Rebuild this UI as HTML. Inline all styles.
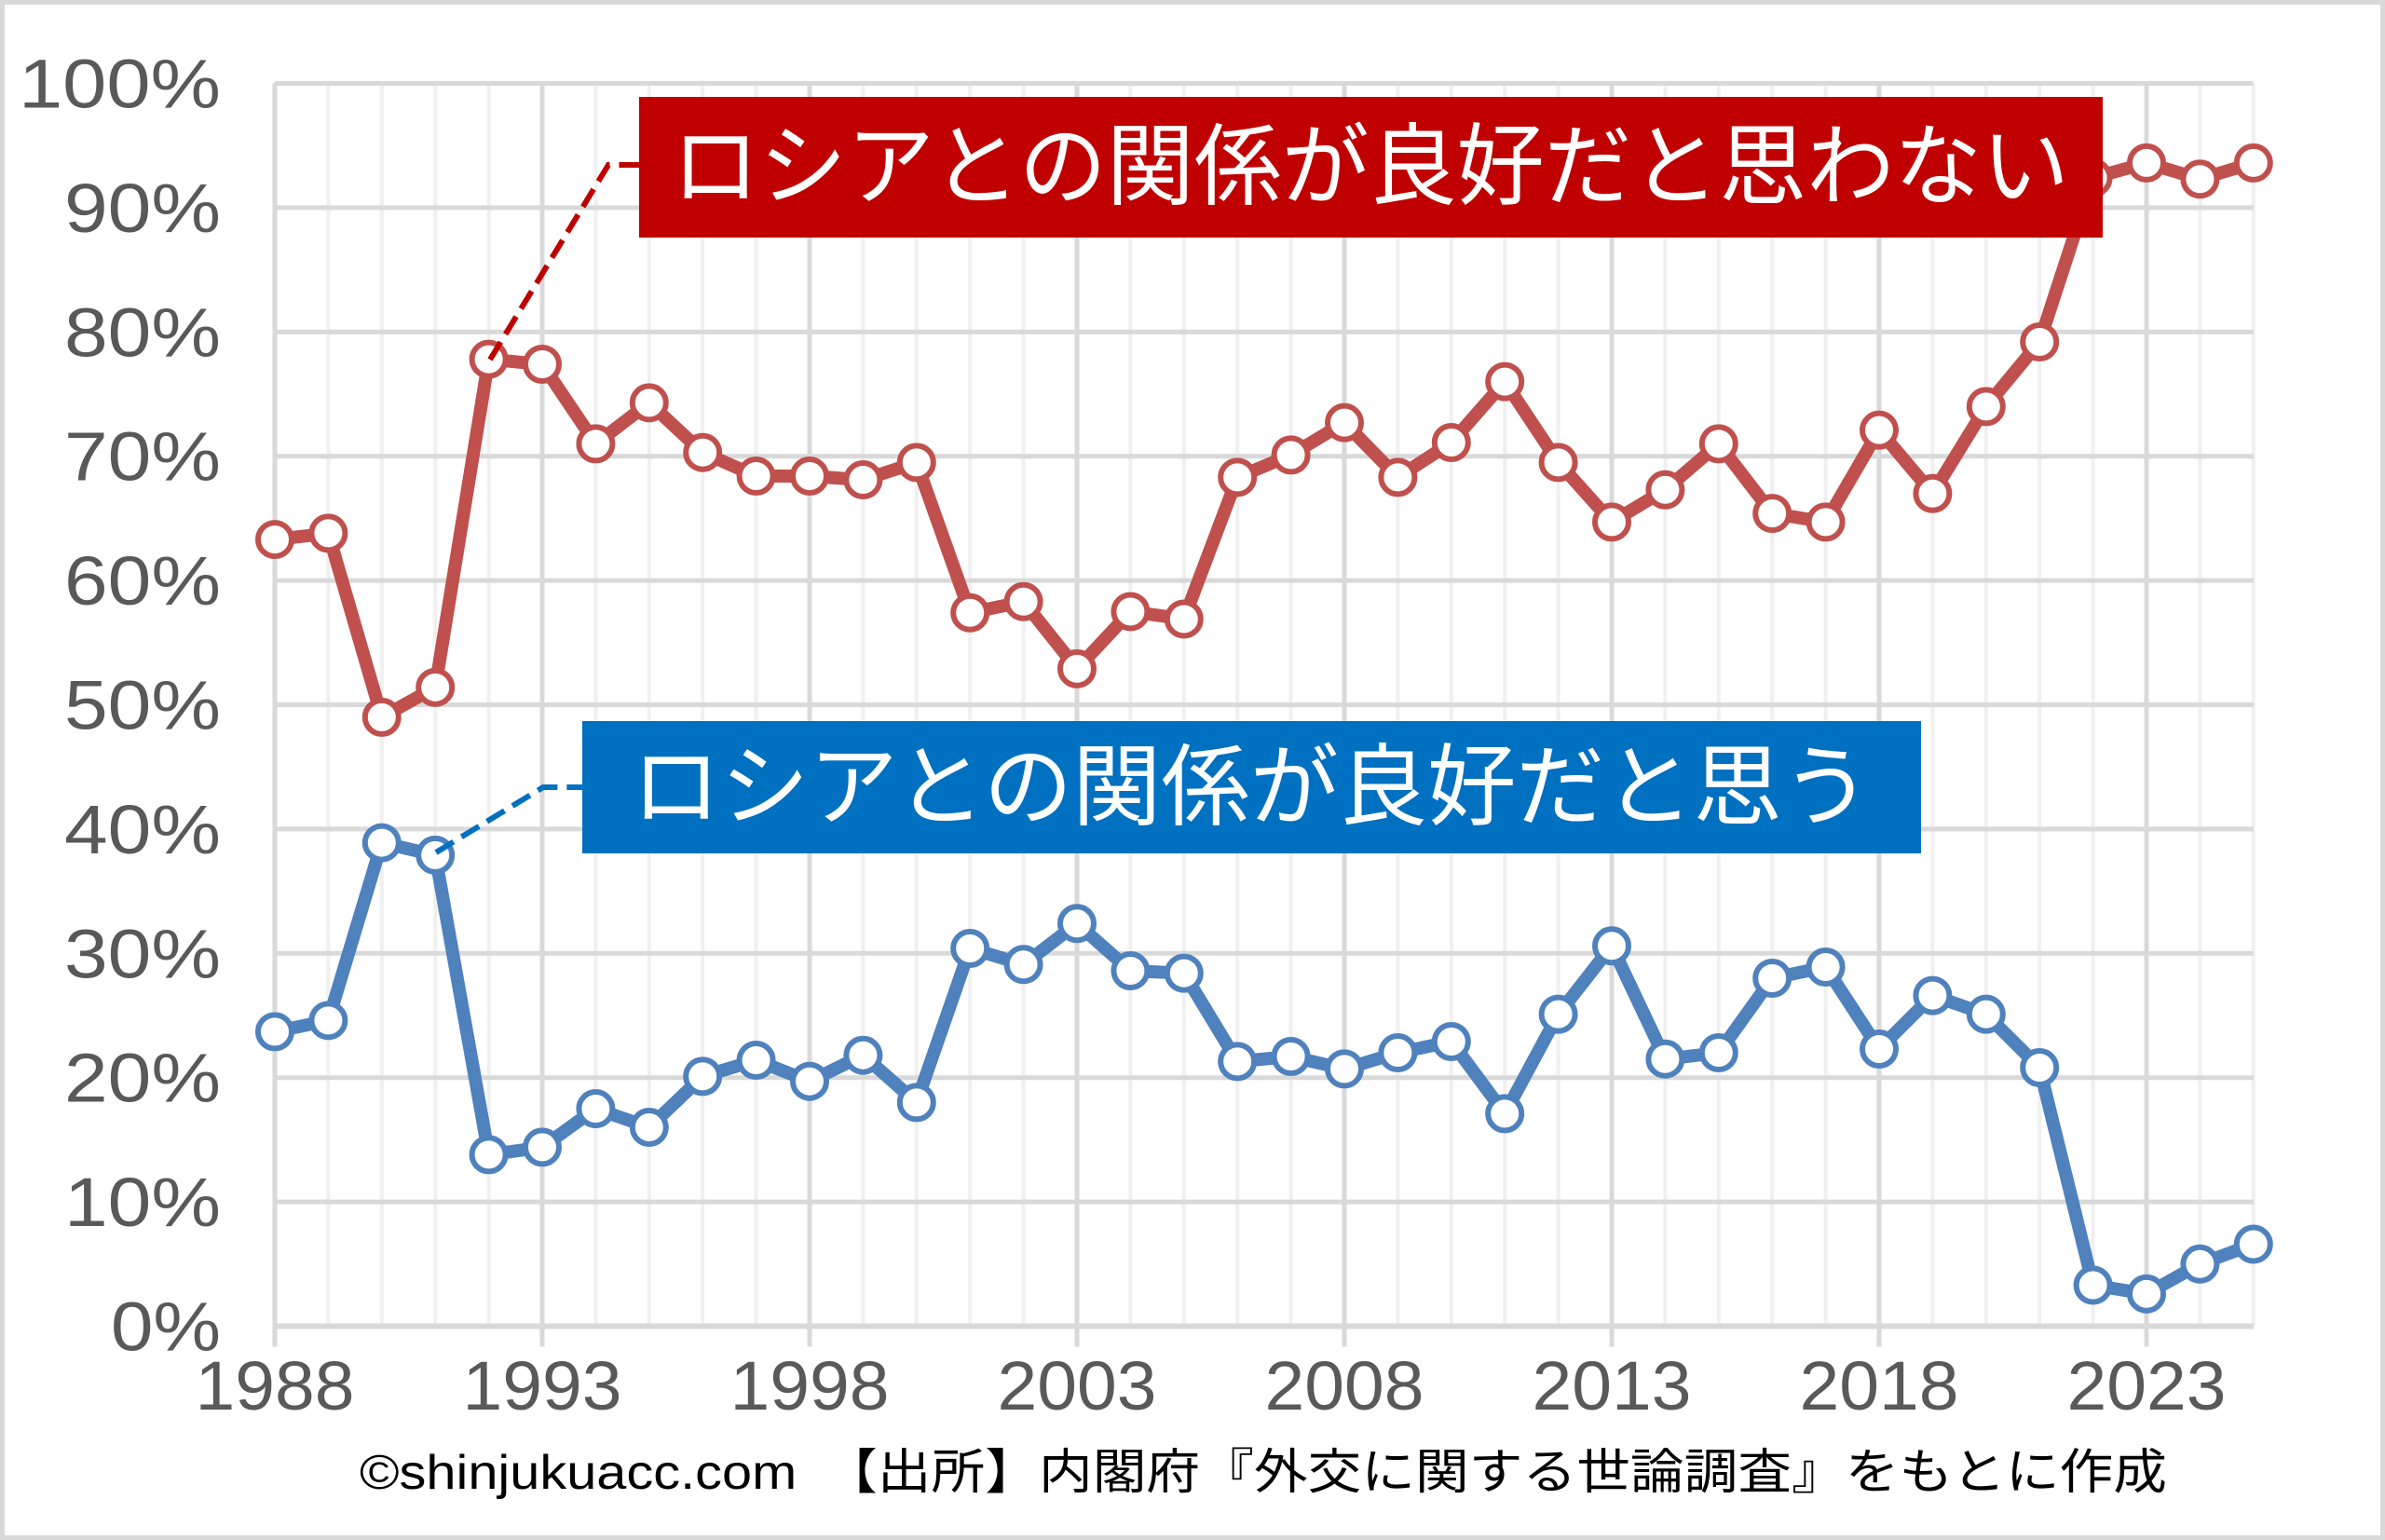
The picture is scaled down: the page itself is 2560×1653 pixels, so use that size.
<!DOCTYPE html>
<html><head><meta charset="utf-8"><style>
html,body{margin:0;padding:0;background:#fff}
svg{display:block}
</style></head><body>
<svg width="2560" height="1653" viewBox="0 0 2560 1653" xmlns="http://www.w3.org/2000/svg">
<rect x="2.5" y="2.5" width="2555" height="1648" fill="#fff" stroke="#d9d9d9" stroke-width="5"/>
<g id="grid"></g>
<g id="series"></g>
<g font-family="'Liberation Sans','Noto Sans CJK JP',sans-serif" fill="#595959" font-size="74" id="labels"></g>
<!-- callouts -->
<polyline points="526,386 653,177 686,177" fill="none" stroke="#c00000" stroke-width="6" stroke-dasharray="22,10"/>
<polyline points="468,915 583,845 625,845" fill="none" stroke="#0070c0" stroke-width="6" stroke-dasharray="22,10"/>
<rect x="686" y="104" width="1571" height="151" fill="#c00000"/>
<text x="1471" y="212" text-anchor="middle" font-family="'Noto Sans CJK JP',sans-serif" font-size="96" fill="#fff" textLength="1500" lengthAdjust="spacingAndGlyphs">ロシアとの関係が良好だと思わない</text>
<rect x="625" y="774" width="1437" height="142" fill="#0070c0"/>
<text x="1343" y="878" text-anchor="middle" font-family="'Noto Sans CJK JP',sans-serif" font-size="96" fill="#fff" textLength="1330" lengthAdjust="spacingAndGlyphs">ロシアとの関係が良好だと思う</text>
<text x="1356" y="1598" text-anchor="middle" font-family="'Liberation Sans','Noto Sans CJK JP',sans-serif" font-size="52" fill="#000" textLength="1940" lengthAdjust="spacingAndGlyphs">©shinjukuacc.com　【出所】内閣府『外交に関する世論調査』をもとに作成</text>
<script>
const NS="http://www.w3.org/2000/svg";
const x0=295,dx=57.4,y0=1423.5,dy=13.34;
const X=i=>x0+i*dx, Y=v=>y0-v*dy;
const g=document.getElementById('grid');
function el(p,t,a){const e=document.createElementNS(NS,t);for(const k in a)e.setAttribute(k,a[k]);p.appendChild(e);return e;}
for(let i=0;i<=37;i++){const major=i%5==0;el(g,'line',{x1:X(i),x2:X(i),y1:Y(100),y2:major?y0+22:y0,stroke:major?'#d9d9d9':'#f0f0f0','stroke-width':major?5:4});}
for(let v=0;v<=100;v+=10){el(g,'line',{x1:x0,x2:X(37),y1:Y(v),y2:Y(v),stroke:'#d9d9d9','stroke-width':v==0?6:5});}
const lab=document.getElementById('labels');
for(let v=0;v<=100;v+=10){const s=v+'%';const w=v==100?217:(v==0?118:168);const t=el(lab,'text',{x:237,y:Y(v)+26,'text-anchor':'end',textLength:w,lengthAdjust:'spacingAndGlyphs'});t.textContent=s;}
for(let i=0;i<=35;i+=5){const t=el(lab,'text',{x:X(i),y:1513,'text-anchor':'middle',textLength:171,lengthAdjust:'spacingAndGlyphs'});t.textContent=1988+i;}
const red=[63.3,63.8,49,51.4,77.8,77.4,71,74.3,70.3,68.4,68.4,68.1,69.5,57.4,58.3,52.9,57.5,56.9,68.3,70.1,72.7,68.3,71.1,76,69.5,64.7,67.3,71,65.4,64.7,72.1,67,74,79.2,92.4,93.6,92.3,93.6];
const blue=[23.7,24.6,38.9,37.9,13.8,14.4,17.5,16,20.1,21.4,19.7,21.8,18,30.4,29.1,32.4,28.6,28.4,21.3,21.7,20.7,22,22.9,17.1,25.1,30.6,21.5,22,28,28.9,22.3,26.6,25.1,20.8,3.3,2.6,5,6.6];
const s=document.getElementById('series');
[[red,'#c0504d'],[blue,'#4f81bd']].forEach(([d,c])=>{
 el(s,'polyline',{points:d.map((v,i)=>X(i)+','+Y(v)).join(' '),fill:'none',stroke:c,'stroke-width':14,'stroke-linejoin':'round'});
 d.forEach((v,i)=>el(s,'circle',{cx:X(i),cy:Y(v),r:18,fill:'#fff',stroke:c,'stroke-width':6}));
});
</script>
</svg>
</body></html>
